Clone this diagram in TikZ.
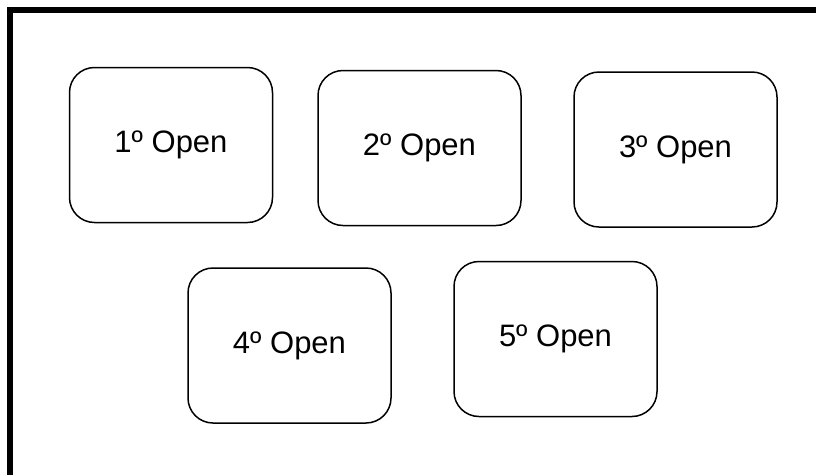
\documentclass[tikz,border=0pt]{standalone}
\usepackage{fontspec}
\setmainfont{Liberation Sans}
\begin{document}
\begin{tikzpicture}[x=1pt,y=-1pt,
  openbox/.style={draw=black, line width=1.5pt, rounded corners=25pt, fill=white,
    minimum width=203pt, minimum height=155pt, inner sep=0pt, outer sep=0pt,
    font=\fontsize{31}{36}\selectfont}]
\useasboundingbox[fill=white] (0,0) rectangle (816,475);
\draw[line width=6pt] (10,475) -- (10,10) -- (816,10);
\node[openbox] (b1) at (171,145) {1º Open};
\node[openbox] (b2) at (419.5,148) {2º Open};
\node[openbox] (b3) at (675.5,149.5) {3º Open};
\node[openbox] (b4) at (289.5,345.5) {4º Open};
\node[openbox] (b5) at (555.5,339) {5º Open};
\end{tikzpicture}
\end{document}
